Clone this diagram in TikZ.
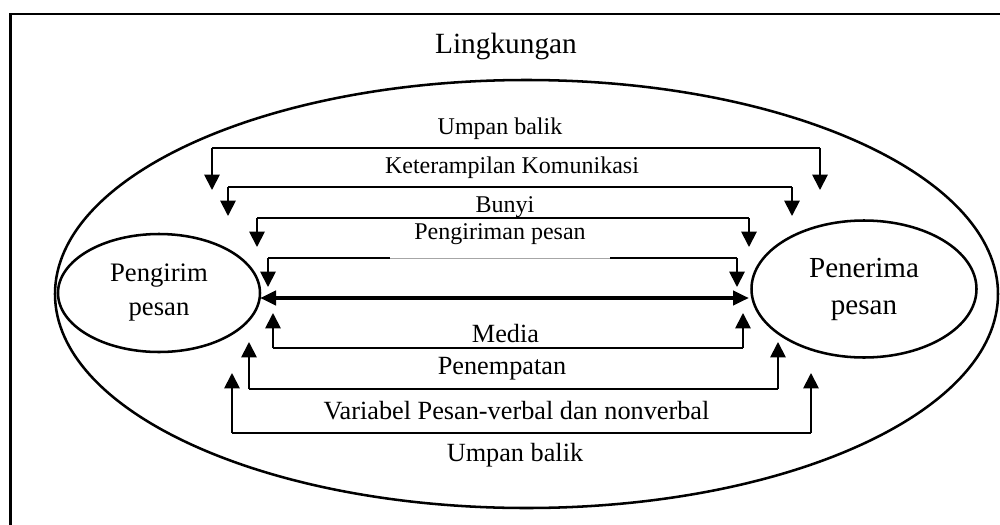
\documentclass[tikz,border=0pt]{standalone}
\usepackage{fontspec}
\setmainfont{Liberation Serif}
\usetikzlibrary{arrows.meta,shapes.geometric}
\begin{document}
\begin{tikzpicture}[x=0.75pt,y=-0.75pt,
  frame/.style={line width=1.8pt},
  oval/.style={draw,ellipse,line width=1.9pt,inner sep=0pt,align=center},
  hline/.style={line width=0.9pt},
  faintline/.style={line width=0.5pt,draw=black!35},
  varrow/.style={line width=1.4pt,-{Triangle[length=11.5pt,width=11.5pt]}},
  bigarrow/.style={line width=3pt,{Triangle[length=12pt,width=10.5pt]}-{Triangle[length=12pt,width=10.5pt]}},
  toplbl/.style={anchor=base,font=\fontsize{18}{21}\selectfont,inner sep=0pt},
  botlbl/.style={anchor=base,font=\fontsize{19.7}{23}\selectfont,inner sep=0pt},
]
\useasboundingbox (0,0) rectangle (1000,525);
\fill[white] (0,0) rectangle (1000,525);
\draw[frame] (10.5,560) |- (1030,14);

% ellipses
\node[oval,minimum width=707.25pt,minimum height=321pt] (env) at (526.5,294) {};
\node[oval,minimum width=151.5pt,minimum height=88.5pt,font=\fontsize{20}{25.5}\selectfont] (snd) at (159,293) {Pengirim\\pesan};
\node[oval,minimum width=168.75pt,minimum height=102.75pt,font=\fontsize{21.8}{27.75}\selectfont] (rcv) at (864,289) {Penerima\\pesan};

% labels
\node[toplbl,font=\fontsize{22}{26}\selectfont] (lenv) at (506,53) {Lingkungan};
\node[toplbl] (l1) at (500,134) {Umpan balik};
\node[toplbl] (l2) at (512,173) {Keterampilan Komunikasi};
\node[toplbl] (l3) at (505,212) {Bunyi};
\node[toplbl] (l4) at (500,239) {Pengiriman pesan};
\node[botlbl] (l5) at (505.5,342) {Media};
\node[botlbl] (l6) at (502,374) {Penempatan};
\node[botlbl] (l7) at (516.5,419) {Variabel Pesan-verbal dan nonverbal};
\node[botlbl] (l8) at (515,461) {Umpan balik};

% brackets: name / left x / right x / line y / tip y
\foreach \n/\xl/\xr/\yh/\yt in {1/212/820/148/190, 2/228/792/187/216, 3/257/749/218/247, 4/268/737/258/287, 5/273/743/348/313, 6/249/778/389/342, 7/232/811/433/373}{
  \coordinate (h\n l) at (\xl,\yh);
  \coordinate (h\n r) at (\xr,\yh);
  \coordinate (t\n l) at (\xl,\yt);
  \coordinate (t\n r) at (\xr,\yt);
}
\coordinate (g4l) at (390,258);
\coordinate (g4r) at (610,258);

\draw[hline] (h1l) -- (h1r);
\draw[hline] (h2l) -- (h2r);
\draw[hline] (h3l) -- (h3r);
\draw[hline] (h4l) -- (g4l);
\draw[faintline] (g4l) -- (g4r);
\draw[hline] (g4r) -- (h4r);
\draw[hline] (h5l) -- (h5r);
\draw[hline] (h6l) -- (h6r);
\draw[hline] (h7l) -- (h7r);

\foreach \n in {1,...,7}{
  \draw[varrow] (h\n l) -- (t\n l);
  \draw[varrow] (h\n r) -- (t\n r);
}

% double arrow between sender and receiver
\coordinate (dl) at (260,298);
\coordinate (dr) at (749,298);
\draw[bigarrow] (dl) -- (dr);
\end{tikzpicture}
\end{document}
